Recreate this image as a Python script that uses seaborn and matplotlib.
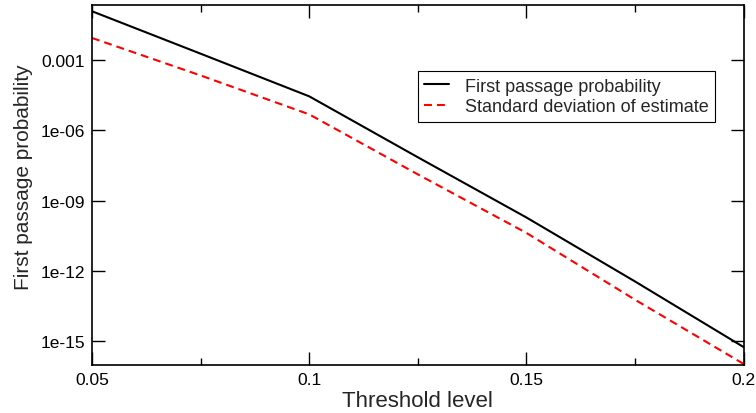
import numpy as np
import pandas as pd
import seaborn as sns
import matplotlib
matplotlib.use("Agg")
import matplotlib.pyplot as plt
from matplotlib.ticker import FixedLocator, FixedFormatter, MultipleLocator

# Data (log10 values)
threshold = [0.05, 0.075, 0.1, 0.125, 0.15, 0.175, 0.2]
log_prob = [-0.92, -2.73, -4.55, -7.15, -9.72, -12.45, -15.25]
log_std = [-2.06, -3.66, -5.32, -7.88, -10.38, -13.23, -15.97]
prob = [10 ** v for v in log_prob]
std = [10 ** v for v in log_std]

ytick_vals = [1e-15, 1e-12, 1e-9, 1e-6, 1e-3]
ytick_labels = ["1e-15", "1e-12", "1e-09", "1e-06", "0.001"]
xtick_vals = [0.05, 0.1, 0.15, 0.2]
xtick_labels = ["0.05", "0.1", "0.15", "0.2"]

sns.set_theme(style="ticks")
plt.rcParams["font.family"] = ["Liberation Sans", "DejaVu Sans"]

fig = plt.figure(figsize=(7.56, 4.14), dpi=100)
ax = fig.add_axes([0.1217, 0.1167, 0.862, 0.8688])

df = pd.DataFrame({"x": threshold, "prob": prob, "std": std})
sns.lineplot(data=df, x="x", y="prob", ax=ax, color="black", lw=1.5,
             label="First passage probability")
sns.lineplot(data=df, x="x", y="std", ax=ax, color="#ff0000", lw=1.5,
             label="Standard deviation of estimate")
ax.lines[1].set_dashes([3.8, 2.4])

ax.set_yscale("log")
ax.set_xlim(0.05, 0.2)
ax.set_ylim(1e-16, 10 ** -0.653)

ax.yaxis.set_major_locator(FixedLocator(ytick_vals))
ax.yaxis.set_major_formatter(FixedFormatter(ytick_labels))
ax.yaxis.set_minor_locator(FixedLocator([]))
ax.xaxis.set_major_locator(FixedLocator(xtick_vals))
ax.xaxis.set_major_formatter(FixedFormatter(xtick_labels))
ax.xaxis.set_minor_locator(MultipleLocator(0.025))

ax.tick_params(which="both", direction="in", top=True, right=True,
               labelsize=12.5, colors="black", width=1.0, pad=5)
ax.tick_params(which="major", length=9.4)
ax.tick_params(which="minor", length=4.8)
for s in ax.spines.values():
    s.set_linewidth(1.2)
    s.set_color("black")

ax.set_xlabel("Threshold level", fontsize=16)
ax.set_ylabel("First passage probability", fontsize=15)
ax.xaxis.set_label_coords(0.5, -0.070)
ax.yaxis.set_label_coords(-0.0905, 0.5246)

leg = ax.legend(loc="upper left", bbox_to_anchor=(0.4998, 0.8157),
                fontsize=13, frameon=True, fancybox=False, framealpha=1,
                edgecolor="black", handlelength=1.4, borderpad=0.35,
                labelspacing=0.2, handletextpad=0.85, borderaxespad=0)
leg.get_frame().set_linewidth(0.8)

fig.savefig("out.png", dpi=100)
